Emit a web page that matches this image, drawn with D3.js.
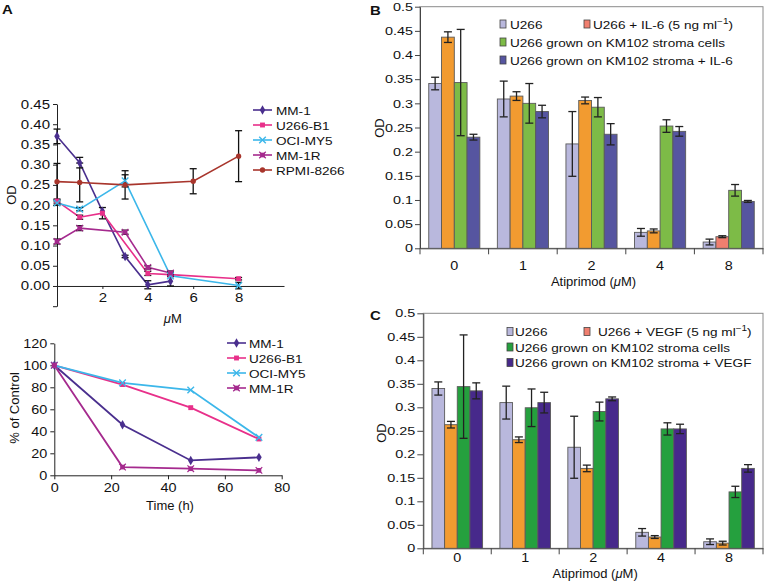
<!DOCTYPE html>
<html><head><meta charset="utf-8">
<script src="https://cdn.jsdelivr.net/npm/d3@7"></script>
<style>
body{margin:0;background:#fff}
text{font-family:"Liberation Sans",Arial,Helvetica,sans-serif;fill:#111}
</style>
</head><body>
<svg id="c" width="766" height="583"></svg>
<script>
// ---------------- DATA ----------------
// Panel A (top): OD vs dose (µM)
const lineNamesA = ["MM-1","U266-B1","OCI-MY5","MM-1R","RPMI-8266"];
const mm1Dose  = [0,1,2,3,4,5];
const mm1OD    = [0.370,0.305,0.185,0.073,0.003,0.012];
const mm1Err   = [0.018,0.013,0,0.003,0.010,0.012];
const u266Dose = [0,1,2,4,5,8];
const u266OD   = [0.210,0.170,0.180,0.031,0.028,0.018];
const u266Err  = [0.005,0.005,0.014,0.005,0.005,0.003];
const ociDose  = [0,1,3,5,8];
const ociOD    = [0.205,0.190,0.260,0.025,0.001];
const ociErr   = [0.005,0.004,0.015,0,0.008];
const mm1rDose = [0,1,3,4,5];
const mm1rOD   = [0.110,0.143,0.133,0.046,0.032];
const mm1rErr  = [0.006,0.006,0.005,0.004,0.005];
const rpmiDose = [0,1,3,6,8];
const rpmiOD   = [0.258,0.256,0.250,0.259,0.321];
const rpmiErr  = [0.045,0.048,0.035,0.031,0.063];
const doseTicks = [2,4,6,8];
const odTicksA = [-0.05,0,0.05,0.10,0.15,0.20,0.25,0.30,0.35,0.40,0.45];

// Panel A (bottom): % of control vs time
const timeNames = ["MM-1","U266-B1","OCI-MY5","MM-1R"];
const timeH = [0,24,48,72];
const mm1Pct  = [100,46,13.5,16.3];
const u266Pct = [100,82.5,61.5,33];
const ociPct  = [100,84,77.5,34.5];
const mm1rPct = [100,7.5,6,4.5];
const timeTicks = [0,20,40,60,80];
const pctTicks = [0,20,40,60,80,100,120];

// Panels B and C: OD vs Atiprimod dose
const doseCats = ["0","1","2","4","8"];
const odTicksBC = [0,0.05,0.1,0.15,0.2,0.25,0.3,0.35,0.4,0.45,0.5];
const seriesB = ["U266","U266 + IL-6","U266 grown on KM102 stroma cells","U266 grown on KM102 stroma + IL-6"];
const bU266   = [0.341,0.309,0.216,0.033,0.013];
const bU266E  = [0.013,0.037,0.067,0.008,0.006];
const bIL6    = [0.437,0.315,0.306,0.036,0.024];
const bIL6E   = [0.011,0.009,0.007,0.004,0.002];
const bKM     = [0.343,0.300,0.292,0.253,0.120];
const bKME    = [0.110,0.041,0.020,0.013,0.012];
const bKMIL6  = [0.230,0.283,0.236,0.242,0.097];
const bKMIL6E = [0.006,0.013,0.022,0.010,0.002];

const seriesC = ["U266","U266 + VEGF","U266 grown on KM102 stroma cells","U266 grown on KM102 stroma + VEGF"];
const cU266   = [0.340,0.310,0.215,0.034,0.014];
const cU266E  = [0.014,0.035,0.066,0.008,0.006];
const cVEGF   = [0.263,0.231,0.170,0.024,0.011];
const cVEGFE  = [0.007,0.006,0.007,0.003,0.004];
const cKM     = [0.344,0.299,0.291,0.254,0.120];
const cKME    = [0.110,0.040,0.020,0.013,0.012];
const cKMV    = [0.335,0.310,0.318,0.254,0.170];
const cKMVE   = [0.017,0.022,0.004,0.010,0.008];

// ---------------- DRAWING ----------------
const svg = d3.select("#c");
const TITLE_FS = 13;
const LEG_FS = 11.5, LEG_SX = 1.18;
const TICK_FS = 12, TICK_SX = 1.2;
const BTICK_FS = 11.5, BTICK_SX = 1.25;

function panelLabel(t,x,y){
  svg.append("text").attr("x",x).attr("y",y).attr("font-size",13).attr("font-weight","bold").attr("data-sx",1.15).text(t);
}
function rotLabel(t,x,y){
  svg.append("text").attr("transform",`translate(${x},${y}) rotate(-90)`).attr("text-anchor","middle")
    .attr("font-size",TITLE_FS).text(t);
}
function styleAxis(g, fs, sx){
  g.selectAll("path,line").attr("stroke","#222").attr("stroke-width",1);
  g.selectAll("text").attr("font-size",fs).attr("fill","#111")
    .attr("font-family",'"Liberation Sans",Arial,sans-serif').attr("data-sx",sx);
}
function muTitle(x,y,pre,post){
  const t = svg.append("text").attr("x",x).attr("y",y).attr("text-anchor","middle").attr("font-size",TITLE_FS);
  t.append("tspan").text(pre);
  t.append("tspan").attr("font-style","italic").text("\u03BC");
  t.append("tspan").text(post);
}

const markerDefs = {
  "MM-1":{color:"#4a2f8e",sym:"diamond"},
  "U266-B1":{color:"#e8308a",sym:"square"},
  "OCI-MY5":{color:"#3cb7ea",sym:"times"},
  "MM-1R":{color:"#a52a8e",sym:"sqx"},
  "RPMI-8266":{color:"#a8352c",sym:"circle"}
};
function drawMarker(g, name, x, y){
  const m = markerDefs[name];
  if(m.sym==="diamond"){
    g.append("path").attr("d",d3.symbol(d3.symbolDiamond,26)()).attr("transform",`translate(${x},${y})`).attr("fill",m.color);
  } else if(m.sym==="square"){
    g.append("path").attr("d",d3.symbol(d3.symbolSquare,24)()).attr("transform",`translate(${x},${y})`).attr("fill",m.color);
  } else if(m.sym==="times"){
    g.append("path").attr("d",d3.symbol(d3.symbolTimes,30)()).attr("transform",`translate(${x},${y})`).attr("fill","none").attr("stroke",m.color).attr("stroke-width",1.4);
  } else if(m.sym==="sqx"){
    g.append("path").attr("d",d3.symbol(d3.symbolSquare,22)()).attr("transform",`translate(${x},${y})`).attr("fill",m.color);
    g.append("path").attr("d",d3.symbol(d3.symbolTimes,30)()).attr("transform",`translate(${x},${y})`).attr("fill","none").attr("stroke",m.color).attr("stroke-width",1.2);
  } else {
    g.append("path").attr("d",d3.symbol(d3.symbolCircle,22)()).attr("transform",`translate(${x},${y})`).attr("fill",m.color);
  }
}
function errBar(g,x,y0,y1,hw,color){
  g.append("line").attr("x1",x).attr("x2",x).attr("y1",y0).attr("y2",y1).attr("stroke",color).attr("stroke-width",1.3);
  g.append("line").attr("x1",x-hw).attr("x2",x+hw).attr("y1",y0).attr("y2",y0).attr("stroke",color).attr("stroke-width",1.3);
  g.append("line").attr("x1",x-hw).attr("x2",x+hw).attr("y1",y1).attr("y2",y1).attr("stroke",color).attr("stroke-width",1.3);
}

// ===== Panel A top =====
panelLabel("A",2,14);
const xA = d3.scaleLinear([0,10],[57,284]);
const yA = d3.scaleLinear([-0.05,0.45],[306.2,104]);
{
  const gy = svg.append("g").attr("transform","translate(57,0)")
    .call(d3.axisLeft(yA).tickValues(odTicksA).tickSize(4).tickPadding(3).tickSizeOuter(0)
      .tickFormat(d=> d< -0.001 ? "" : d3.format(".2f")(d)));
  styleAxis(gy,TICK_FS+0.5,TICK_SX);
  const gx = svg.append("g").attr("transform",`translate(0,${yA(0)})`)
    .call(d3.axisBottom(xA).tickValues(doseTicks).tickSize(3).tickPadding(4).tickSizeOuter(0));
  styleAxis(gx,TICK_FS+0.5,TICK_SX);
  rotLabel("OD",16,195);
  muTitle(xA(5.1),323,"","M");

  const sets = [
    ["MM-1",mm1Dose,mm1OD,mm1Err],
    ["U266-B1",u266Dose,u266OD,u266Err],
    ["OCI-MY5",ociDose,ociOD,ociErr],
    ["MM-1R",mm1rDose,mm1rOD,mm1rErr],
    ["RPMI-8266",rpmiDose,rpmiOD,rpmiErr]
  ];
  const line = d3.line().x(d=>xA(d[0])).y(d=>yA(d[1]));
  const gl = svg.append("g");
  sets.forEach(([n,xs,ys])=>{
    gl.append("path").datum(xs.map((x,i)=>[x,ys[i]])).attr("d",line)
      .attr("fill","none").attr("stroke",markerDefs[n].color).attr("stroke-width",1.6);
  });
  sets.forEach(([n,xs,ys,es])=>{
    xs.forEach((x,i)=>{ if(es[i]>0) errBar(gl,xA(x),yA(ys[i]+es[i]),yA(ys[i]-es[i]),3.5,"#111"); });
  });
  sets.forEach(([n,xs,ys])=>{ xs.forEach((x,i)=>drawMarker(gl,n,xA(x),yA(ys[i]))); });

  const lg = svg.append("g");
  lineNamesA.forEach((n,i)=>{
    const y = 110 + 15*i;
    lg.append("line").attr("x1",253).attr("x2",272).attr("y1",y).attr("y2",y).attr("stroke",markerDefs[n].color).attr("stroke-width",1.6);
    drawMarker(lg,n,262.5,y);
    lg.append("text").attr("x",276).attr("y",y+4.5).attr("font-size",LEG_FS).attr("data-sx",LEG_SX).text(n);
  });
}

// ===== Panel A bottom =====
const xT = d3.scaleLinear([0,80],[54.3,281.7]);
const yT = d3.scaleLinear([0,120],[475.3,343.3]);
{
  const gy = svg.append("g").attr("transform","translate(54.3,0)")
    .call(d3.axisLeft(yT).tickValues(pctTicks).tickSize(4).tickPadding(3).tickSizeOuter(0));
  styleAxis(gy,TICK_FS,TICK_SX);
  const gx = svg.append("g").attr("transform",`translate(0,${yT(0)})`)
    .call(d3.axisBottom(xT).tickValues(timeTicks).tickSize(4).tickPadding(4).tickSizeOuter(0));
  styleAxis(gx,TICK_FS,TICK_SX);
  rotLabel("% of Control",19,408);
  svg.append("text").attr("x",170).attr("y",510).attr("text-anchor","middle").attr("font-size",TITLE_FS).text("Time (h)");
  const sets = [["MM-1",mm1Pct],["U266-B1",u266Pct],["OCI-MY5",ociPct],["MM-1R",mm1rPct]];
  const line = d3.line().x(d=>xT(d[0])).y(d=>yT(d[1]));
  const gl = svg.append("g");
  sets.forEach(([n,ys])=>{
    gl.append("path").datum(timeH.map((t,i)=>[t,ys[i]])).attr("d",line)
      .attr("fill","none").attr("stroke",markerDefs[n].color).attr("stroke-width",1.8);
  });
  sets.forEach(([n,ys])=>{ timeH.forEach((t,i)=>drawMarker(gl,n,xT(t),yT(ys[i]))); });
  const lg = svg.append("g");
  timeNames.forEach((n,i)=>{
    const y = 343 + 15*i;
    lg.append("line").attr("x1",227).attr("x2",246).attr("y1",y).attr("y2",y).attr("stroke",markerDefs[n].color).attr("stroke-width",1.6);
    drawMarker(lg,n,236.5,y);
    lg.append("text").attr("x",249).attr("y",y+4.5).attr("font-size",LEG_FS).attr("data-sx",LEG_SX).text(n);
  });
}

// ===== Bar panels =====
function barPanel(opt){
  const x0 = d3.scaleBand(doseCats,[opt.left,opt.right]).paddingInner(0.255).paddingOuter(0.1275);
  const x1 = d3.scaleBand(d3.range(4),[0,x0.bandwidth()]);
  const y = d3.scaleLinear([0,0.5],[opt.bottom,opt.top]);
  svg.append("rect").attr("x",opt.left).attr("y",opt.top).attr("width",opt.right-opt.left).attr("height",opt.bottom-opt.top)
    .attr("fill","none").attr("stroke","#8a8a8a").attr("stroke-width",1);
  const gy = svg.append("g").attr("transform",`translate(${opt.left},0)`)
    .call(d3.axisLeft(y).tickValues(odTicksBC).tickSize(opt.tick).tickPadding(2).tickSizeOuter(0).tickFormat(d=>d3.format("")(+d.toFixed(2))));
  styleAxis(gy,BTICK_FS,BTICK_SX);
  gy.selectAll("path,line").attr("stroke","#444");
  const gx = svg.append("g").attr("transform",`translate(0,${opt.bottom})`)
    .call(d3.axisBottom(x0).tickSize(0).tickPadding(opt.labPad).tickSizeOuter(0));
  styleAxis(gx,12.5,1.15);
  gx.select("path").attr("stroke","#444");
  const bounds = d3.range(doseCats.length+1).map(i=>opt.left + i*x0.step());
  svg.append("g").selectAll("line").data(bounds).join("line")
    .attr("x1",d=>d).attr("x2",d=>d).attr("y1",opt.bottom).attr("y2",opt.bottom+6).attr("stroke","#444");
  muTitle((opt.left+opt.right)/2+2,opt.titleY,"Atiprimod (","M)");
  rotLabel("OD",opt.odX,opt.odY);

  const gb = svg.append("g");
  opt.values.forEach((vals,s)=>{
    doseCats.forEach((c,i)=>{
      const bx = x0(c)+x1(s);
      gb.append("rect").attr("x",bx).attr("y",y(vals[i])).attr("width",x1.bandwidth()).attr("height",y(0)-y(vals[i]))
        .attr("fill",opt.colorOf(s,i)).attr("stroke","#5a5a5a").attr("stroke-width",0.9);
    });
  });
  opt.values.forEach((vals,s)=>{
    doseCats.forEach((c,i)=>{
      const cx = x0(c)+x1(s)+x1.bandwidth()/2;
      errBar(gb,cx,y(vals[i]+opt.errs[s][i]),y(vals[i]-opt.errs[s][i]),4,"#222");
    });
  });
  const lg = svg.append("g");
  opt.legend.forEach(L=>{
    lg.append("rect").attr("x",L.mx).attr("y",L.y-4).attr("width",6).attr("height",8)
      .attr("fill",L.color).attr("stroke","#444").attr("stroke-width",0.8);
    const t = lg.append("text").attr("x",L.tx).attr("y",L.y+4.5).attr("font-size",LEG_FS).attr("data-sx",LEG_SX);
    t.append("tspan").text(L.text);
    if(L.sup){
      t.append("tspan").attr("font-size",8.5).attr("dy",-5).text("\u22121");
      t.append("tspan").attr("dy",5).text(")");
    }
  });
}

panelLabel("B",370,15);
const colB = ["#b9b8dd","#f29b30","#7dbb47","#5655a0"];
barPanel({
  left:420, right:763, top:6.7, bottom:248.3, tick:5, labPad:13, titleY:286, odX:384, odY:128,
  values:[bU266,bIL6,bKM,bKMIL6], errs:[bU266E,bIL6E,bKME,bKMIL6E],
  colorOf:(s,i)=> (s===1 && i===4) ? "#f07f6f" : colB[s],
  legend:[
    {mx:500,tx:510,y:24,color:colB[0],text:seriesB[0]},
    {mx:584,tx:593,y:24,color:"#f07f6f",text:"U266 + IL-6 (5 ng ml",sup:true},
    {mx:500,tx:510,y:42,color:colB[2],text:seriesB[2]},
    {mx:500,tx:510,y:60,color:colB[3],text:seriesB[3]}
  ]
});

panelLabel("C",370,320);
const colC = ["#b9b8dd","#f29b30","#25a03e","#47298b"];
barPanel({
  left:423.3, right:763, top:313.3, bottom:548.3, tick:6, labPad:5, titleY:578, odX:386, odY:433,
  values:[cU266,cVEGF,cKM,cKMV], errs:[cU266E,cVEGFE,cKME,cKMVE],
  colorOf:(s,i)=> colC[s],
  legend:[
    {mx:507,tx:515,y:331.5,color:colC[0],text:seriesC[0]},
    {mx:584,tx:598,y:331.5,color:"#f07f6f",text:"U266 + VEGF (5 ng ml",sup:true},
    {mx:507,tx:515,y:347,color:colC[2],text:seriesC[2]},
    {mx:507,tx:515,y:362.5,color:colC[3],text:seriesC[3]}
  ]
});

// horizontal widening of texts (reference typeface is wider than Liberation Sans)
svg.selectAll("text[data-sx]").each(function(){
  const f = +this.getAttribute("data-sx");
  const L = this.getComputedTextLength();
  if(L>0 && f!==1){
    this.setAttribute("textLength", (L*f).toFixed(2));
    this.setAttribute("lengthAdjust","spacingAndGlyphs");
  }
});
</script>
</body></html>
